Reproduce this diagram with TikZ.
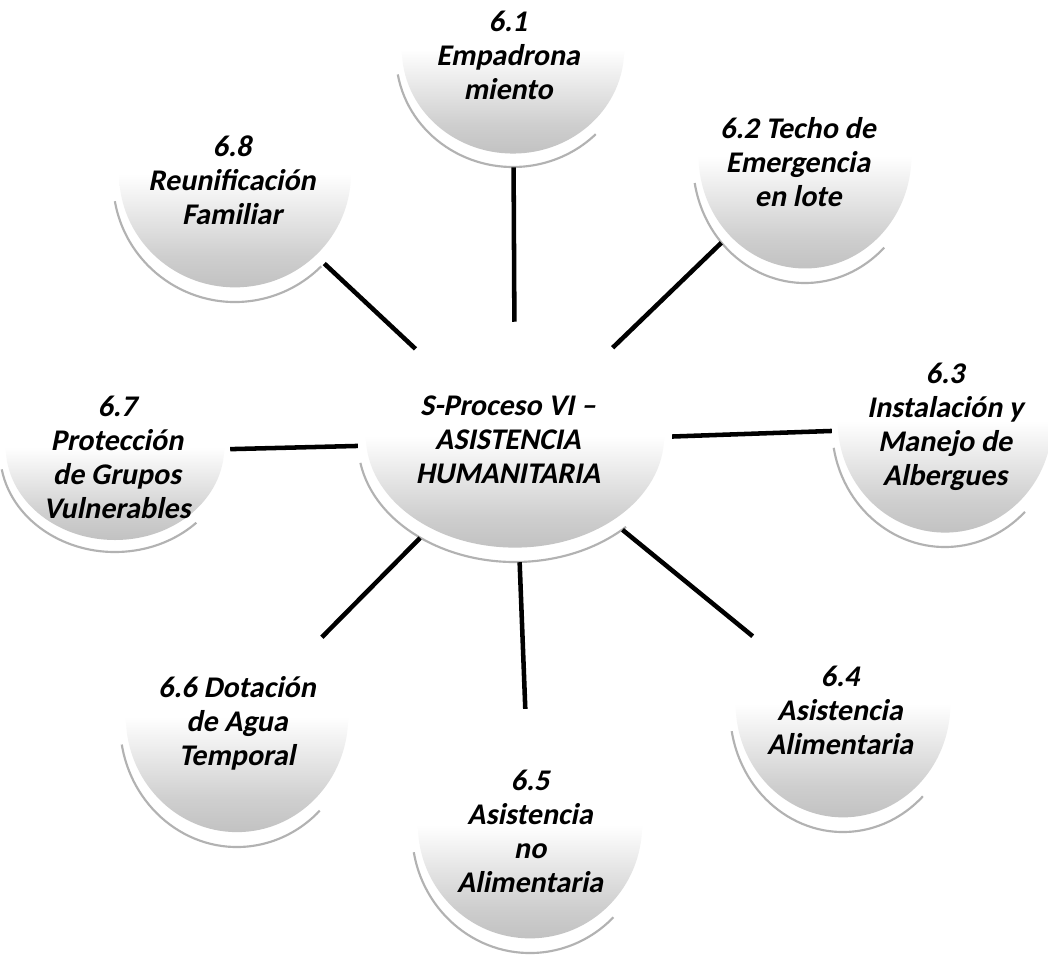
\documentclass[tikz,border=0pt]{standalone}
\usepackage{fontspec}
\setmainfont{Carlito}
\newfontfamily\bubfont{Carlito}[UprightFont={* Bold}, BoldFont={* Bold}, FakeSlant=0.2]
\newcommand\bubsize{\bubfont\fontsize{22.5}{25.5}\selectfont}
\usetikzlibrary{shapes.geometric}
\pgfdeclareverticalshading{bubshade}{100bp}{color(0bp)=(gray!68); color(15bp)=(gray!62); color(32bp)=(gray!38); color(50bp)=(white); color(100bp)=(white)}
\tikzset{
  bubshape/.style={ellipse, draw=none, inner sep=0pt},
  bubtext/.style={inner sep=0pt, text=black, align=center, font=\bubsize},
  rim/.style={draw=gray!60, line width=1.6pt},
  conn/.style={draw=black, line width=3.4pt}
}
% name, x, y, rx, ry, text-x, text-y, text
\newcommand\mybub[8]{%
  \shade[shading=bubshade] (#2,#3-0.05*#5) ellipse [x radius={0.95*#4*0.75pt}, y radius={0.93*#5*0.75pt}];
  \draw[rim] (#2,#3) ++(190:{#4*0.75pt} and {#5*0.75pt}) arc[start angle=190, end angle=315, x radius={#4*0.75pt}, y radius={#5*0.75pt}];
  \node[bubshape, minimum width={2*#4*0.75pt}, minimum height={2*#5*0.75pt}] (#1) at (#2,#3) {};
  \node[bubtext] (#1t) at (#6,#7) {#8};
}
\begin{document}
\begin{tikzpicture}[x=0.75pt, y=-0.75pt]
\useasboundingbox[fill=white] (0,0) rectangle (1048,954);
\mybub{c}{515}{442}{157}{120}{508}{440}{S-Proceso VI –\\ASISTENCIA\\HUMANITARIA}
\mybub{n1}{513}{55}{117}{112}{508}{55}{6.1\\Empadrona\\miento}
\mybub{n2}{805}{162}{112}{121}{798}{162}{6.2 Techo de\\Emergencia\\en lote}
\mybub{n3}{945}{427}{113}{120}{945}{427}{6.3\\Instalación y\\Manejo de\\Albergues}
\mybub{n4}{843}{710}{113}{122}{840}{710}{6.4\\Asistencia\\Alimentaria}
\mybub{n5}{530}{831}{118}{122}{530}{831}{6.5\\Asistencia\\no\\Alimentaria}
\mybub{n6}{237}{723}{117}{124}{237}{723}{6.6 Dotación\\de Agua\\Temporal}
\mybub{n7}{115}{452}{115}{100}{117}{457}{6.7\\Protección\\de Grupos\\Vulnerables}
\mybub{n8}{235}{180}{122}{122}{232}{180}{6.8\\Reunificación\\Familiar}
\foreach \n in {n1,n2,n3,n4,n5,n6,n7,n8} \draw[conn] (c) -- (\n);
\end{tikzpicture}
\end{document}
